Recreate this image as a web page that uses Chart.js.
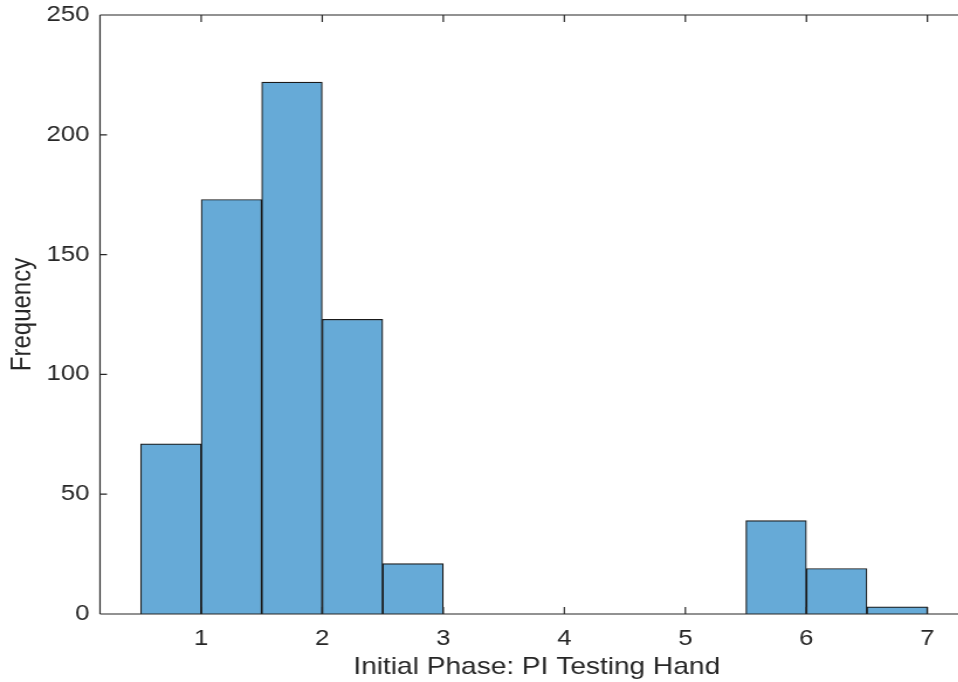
<!DOCTYPE html>
<html>
<head>
<meta charset="utf-8">
<script src="https://cdn.jsdelivr.net/npm/chart.js@4/dist/chart.umd.min.js"></script>
<style>
html,body{margin:0;padding:0;background:#fff;overflow:hidden;width:958px;height:682px;}
#clip{width:958px;height:682px;overflow:hidden;position:relative;}
#wrap{position:absolute;left:0;top:0;transform-origin:0 0;}
</style>
</head>
<body>
<div id="clip"><div id="wrap"><canvas id="c"></canvas></div></div>
<script>
// Histogram bins (bin edges every 0.5) and counts
const binEdges = [0.5, 1.0, 1.5, 2.0, 2.5, 3.0, 3.5, 4.0, 4.5, 5.0, 5.5, 6.0, 6.5, 7.0];
const counts   = [71, 173, 222, 123, 21, 0, 0, 0, 0, 0, 39, 19, 3];
const xTicks = [1, 2, 3, 4, 5, 6, 7];
const yTicks = [0, 50, 100, 150, 200, 250];
const xLabel = 'Initial Phase: PI Testing Hand';
const yLabel = 'Frequency';

const data = counts.map((c, i) => ({x: (binEdges[i] + binEdges[i + 1]) / 2, y: c}));

// horizontal stretch of the reference picture
const K = 1.17;
const W = Math.round(972 / K) + 1;
const H = 682;
const cv = document.getElementById('c');
cv.width = W; cv.height = H;
cv.style.width = W + 'px'; cv.style.height = H + 'px';
document.getElementById('wrap').style.transform = 'scaleX(' + K + ')';

const axisColor = '#262626';
const fontFamily = "'Liberation Sans', Arial, Helvetica, sans-serif";

const boxTicks = {
  id: 'boxTicks',
  afterDraw(chart) {
    const {ctx, chartArea: a, scales: {x, y}} = chart;
    ctx.save();
    ctx.strokeStyle = axisColor;
    ctx.lineWidth = 1.2;
    ctx.beginPath();
    ctx.moveTo(a.left, a.top); ctx.lineTo(a.right, a.top);
    ctx.moveTo(a.left, a.bottom); ctx.lineTo(a.right, a.bottom);
    ctx.moveTo(a.left, a.top); ctx.lineTo(a.left, a.bottom);
    ctx.moveTo(a.right, a.top); ctx.lineTo(a.right, a.bottom);
    const LV = 7, LH = 7 / K;
    xTicks.forEach(v => {
      const px = x.getPixelForValue(v);
      ctx.moveTo(px, a.bottom); ctx.lineTo(px, a.bottom - LV);
      ctx.moveTo(px, a.top); ctx.lineTo(px, a.top + LV);
    });
    yTicks.forEach(v => {
      const py = y.getPixelForValue(v);
      ctx.moveTo(a.left, py); ctx.lineTo(a.left + LH, py);
      ctx.moveTo(a.right, py); ctx.lineTo(a.right - LH, py);
    });
    ctx.stroke();
    ctx.restore();
  }
};

new Chart(cv, {
  type: 'bar',
  data: {
    datasets: [{
      data: data,
      backgroundColor: '#66aad7',
      borderColor: '#1a1a1a',
      borderWidth: 1.2,
      barPercentage: 1,
      categoryPercentage: 1,
      grouped: false
    }]
  },
  plugins: [boxTicks],
  options: {
    responsive: false,
    animation: false,
    events: [],
    layout: {padding: {top: 15, right: 0, left: 0, bottom: 0}},
    plugins: {legend: {display: false}, tooltip: {enabled: false}},
    scales: {
      x: {
        type: 'linear',
        offset: false,
        min: 0.164,
        max: 7.38,
        afterBuildTicks: s => { s.ticks = xTicks.map(v => ({value: v})); },
        afterFit: s => { s.height = 68; s.paddingLeft = 0; s.paddingRight = 0; },
        grid: {display: false, drawTicks: false},
        border: {display: false},
        ticks: {color: axisColor, font: {family: fontFamily, size: 22}, padding: 12, maxRotation: 0, autoSkip: false},
        title: {display: true, text: xLabel, color: axisColor, font: {family: fontFamily, size: 24}, padding: {top: 0, bottom: 0}}
      },
      y: {
        type: 'linear',
        min: 0,
        max: 250,
        afterBuildTicks: s => { s.ticks = yTicks.map(v => ({value: v})); },
        afterFit: s => { s.width = 100 / K; s.paddingTop = 0; s.paddingBottom = 0; },
        grid: {display: false, drawTicks: false},
        border: {display: false},
        ticks: {color: axisColor, font: {family: fontFamily, size: 22}, padding: 9},
        title: {display: true, text: yLabel, color: axisColor, font: {family: fontFamily, size: 24}, padding: {top: 5, bottom: 0}}
      }
    }
  }
});
</script>
</body>
</html>
